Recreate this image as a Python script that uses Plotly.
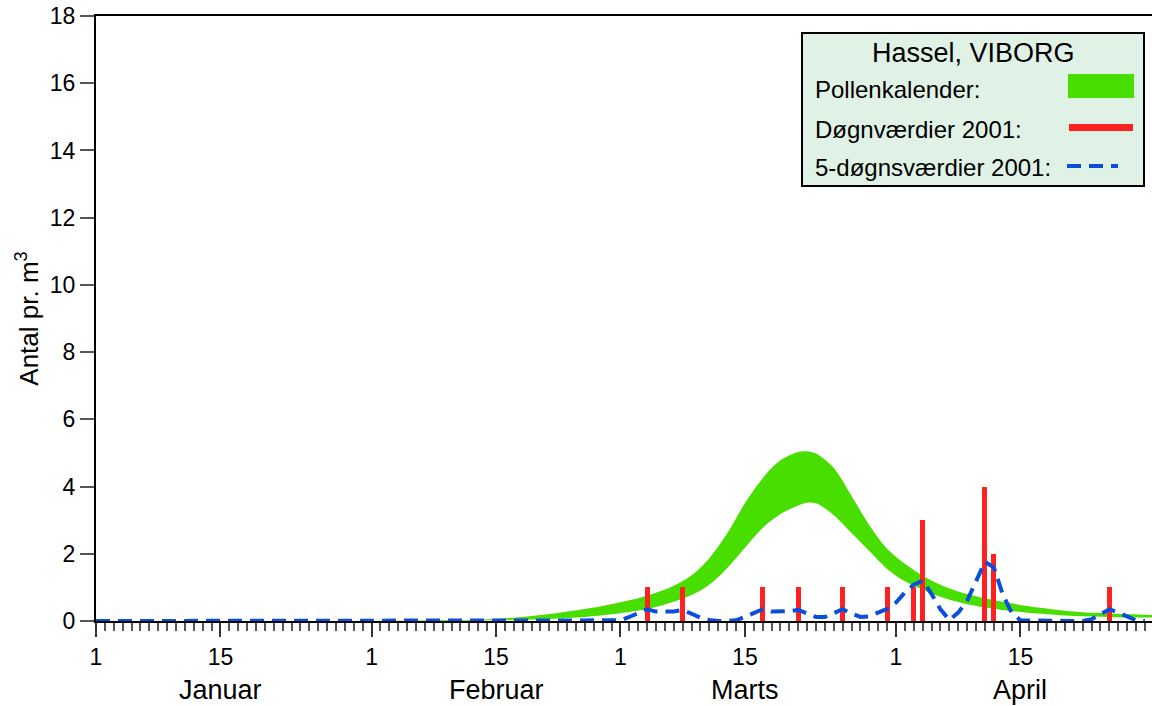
import plotly.graph_objects as go

# ---- data (x = day of year, 1 = 1 Jan) ----
cal_days = [1, 32, 40, 44, 48, 52, 56, 58, 60, 62, 64, 66, 68, 70, 72, 74, 76, 78, 80, 81, 82, 84, 86, 88, 90, 92, 94, 96, 99, 103, 107, 111, 115, 120]
cal_upper = [0, 0, 0.02, 0.04, 0.10, 0.21, 0.36, 0.45, 0.56, 0.68, 0.84, 1.05, 1.36, 1.87, 2.60, 3.50, 4.25, 4.78, 5.03, 5.05, 4.98, 4.55, 3.72, 2.85, 2.15, 1.70, 1.35, 1.08, 0.80, 0.57, 0.40, 0.28, 0.22, 0.18]
cal_lower = [0, 0, 0.00, 0.01, 0.03, 0.06, 0.12, 0.17, 0.23, 0.31, 0.42, 0.57, 0.77, 1.08, 1.57, 2.18, 2.77, 3.18, 3.44, 3.52, 3.50, 3.15, 2.62, 2.08, 1.55, 1.18, 0.93, 0.72, 0.50, 0.33, 0.22, 0.15, 0.12, 0.10]

daily_days = [63, 67, 76, 80, 85, 90, 93, 94, 101, 102, 115]
daily_vals = [1, 1, 1, 1, 1, 1, 1, 3, 4, 2, 1]

five_days = [1, 59, 60, 61, 62, 63, 64, 65, 66, 67, 68, 69, 70, 71, 72, 73, 74, 75, 76, 77, 78, 79, 80,
             81, 82, 83, 84, 85, 86, 87, 88, 89, 90, 91, 92, 93, 94, 95, 96, 97, 98, 99, 100,
             101, 102, 103, 104, 105, 112, 113, 114, 115, 116, 117, 118, 119]
five_vals = [0, 0, 0.02, 0.12, 0.25, 0.35, 0.28, 0.27, 0.28, 0.33, 0.22, 0.10, 0.03, 0.0, 0.0, 0.02, 0.12, 0.25, 0.35, 0.28, 0.27, 0.29, 0.33,
             0.22, 0.12, 0.12, 0.22, 0.35, 0.22, 0.12, 0.14, 0.25, 0.36, 0.55, 0.85, 1.08, 1.20, 0.80, 0.35, 0.03, 0.25, 0.60, 1.20,
             1.76, 1.60, 0.80, 0.25, 0.02, 0.0, 0.05, 0.20, 0.35, 0.25, 0.12, 0.02, 0.0]

tick_days = [1, 15, 32, 46, 60, 74, 91, 105]
tick_text = ["1", "15", "1", "15", "1", "15", "1", "15"]
month_pos = [15, 46, 74, 105]
month_names = ["Januar", "Februar", "Marts", "April"]

GREEN = "#48DE00"
RED = "#FF2020"
BLUE = "#0A4EDC"
FONT = "Arial, Liberation Sans, sans-serif"

fig = go.Figure()
fig.add_trace(go.Scatter(x=cal_days, y=cal_lower, mode="lines", line=dict(width=0, color=GREEN, shape="spline", smoothing=0.9),
                         hoverinfo="skip", showlegend=False))
fig.add_trace(go.Scatter(x=cal_days, y=cal_upper, mode="lines", line=dict(width=0, color=GREEN, shape="spline", smoothing=0.9),
                         fill="tonexty", fillcolor=GREEN, name="Pollenkalender", showlegend=False))
fig.add_trace(go.Bar(x=daily_days, y=daily_vals, width=0.55, marker=dict(color=RED, line=dict(width=0)),
                     name="Døgnværdier 2001", showlegend=False, xaxis="x2", yaxis="y2"))
fig.add_trace(go.Scatter(x=five_days, y=five_vals, mode="lines", line=dict(color=BLUE, width=4, dash="14px,8px"),
                         name="5-døgnsværdier 2001", showlegend=False, xaxis="x2", yaxis="y2"))

xr = [1, 119.8]
yr = [0, 18]
fig.update_layout(
    width=1152, height=706,
    margin=dict(l=96, r=0, t=16, b=85),
    paper_bgcolor="white", plot_bgcolor="white",
    font=dict(family=FONT, size=23, color="black"),
    xaxis=dict(range=xr, tickvals=tick_days, ticktext=tick_text, ticks="outside", ticklen=14, tickwidth=2, tickcolor="#333",
               minor=dict(dtick=1, tick0=1, ticks="outside", ticklen=8, tickwidth=1.5, tickcolor="#555"),
               showgrid=False, zeroline=False, showline=True, linecolor="black", linewidth=2, mirror=True,
               tickfont=dict(size=23)),
    yaxis=dict(range=yr, dtick=2, ticks="outside", ticklen=14, tickwidth=1.5, tickcolor="#555", showgrid=False, zeroline=False,
               showline=True, linecolor="black", linewidth=2, tickfont=dict(size=23),
               title=dict(text="Antal pr. m<sup>3</sup>", font=dict(size=26), standoff=4)),
    xaxis2=dict(range=xr, overlaying="x", visible=False),
    yaxis2=dict(range=yr, overlaying="y", visible=False),
    bargap=0,
)

for pos, name in zip(month_pos, month_names):
    fig.add_annotation(x=pos, xref="x", y=-0.114, yref="paper", text=name, showarrow=False,
                       font=dict(size=27), xanchor="center", yanchor="middle")

# ---- legend box ----
def px(xp):
    return (xp - 96) / 1056
def py(yp):
    return (621 - yp) / 605

fig.add_shape(type="rect", xref="paper", yref="paper", x0=px(802), x1=px(1144), y0=py(186), y1=py(33),
              fillcolor="#E0F2E6", line=dict(color="black", width=2))
fig.add_annotation(xref="paper", yref="paper", x=px(973), y=py(53), text="Hassel, VIBORG", showarrow=False,
                   font=dict(size=27), xanchor="center", yanchor="middle")
for yy, txt in [(89, "Pollenkalender:"), (129, "Døgnværdier 2001:"), (168, "5-døgnsværdier 2001:")]:
    fig.add_annotation(xref="paper", yref="paper", x=px(813), y=py(yy), text=txt, showarrow=False,
                       font=dict(size=24), xanchor="left", yanchor="middle")
fig.add_shape(type="rect", xref="paper", yref="paper", x0=px(1068), x1=px(1134), y0=py(98), y1=py(74),
              fillcolor=GREEN, line=dict(width=0))
fig.add_shape(type="line", xref="paper", yref="paper", x0=px(1069), x1=px(1133), y0=py(127.5), y1=py(127.5),
              line=dict(color=RED, width=7))
fig.add_shape(type="line", xref="paper", yref="paper", x0=px(1067), x1=px(1118), y0=py(166), y1=py(166),
              line=dict(color=BLUE, width=4, dash="14px,8px"))

fig.write_html("out.html", config={"displayModeBar": False},
               post_script="document.body.style.margin='0';document.body.style.overflow='hidden';")
